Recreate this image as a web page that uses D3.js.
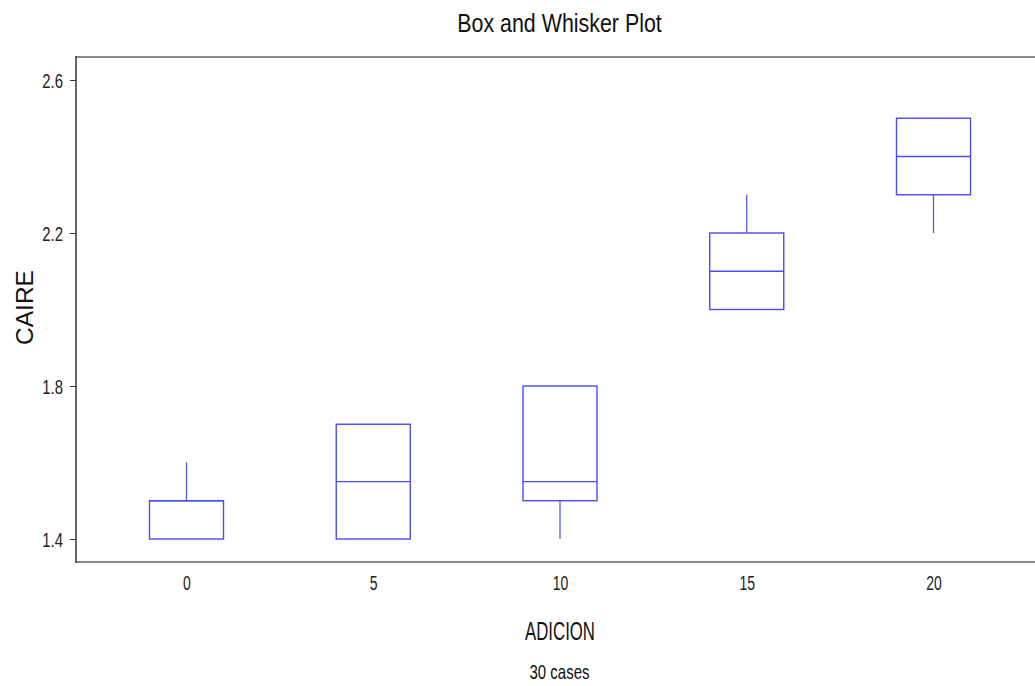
<!DOCTYPE html>
<html>
<head>
<meta charset="utf-8">
<script src="https://cdn.jsdelivr.net/npm/d3@7"></script>
<style>
  html, body { margin: 0; padding: 0; background: #fff; }
  svg { display: block; font-family: "Liberation Sans", Arial, sans-serif; }
</style>
</head>
<body>
<svg id="chart" width="1035" height="686"></svg>
<script>
// ---- data ----
const categories = [0, 5, 10, 15, 20];
const mins    = [1.4, 1.4, 1.4, 2.0, 2.2];
const q1s     = [1.4, 1.4, 1.5, 2.0, 2.3];
const medians = [1.5, 1.55, 1.55, 2.1, 2.4];
const q3s     = [1.5, 1.7, 1.8, 2.2, 2.5];
const maxs    = [1.6, 1.7, 1.8, 2.3, 2.5];
const yTicks  = [1.4, 1.8, 2.2, 2.6];
const title = "Box and Whisker Plot";
const xLabel = "ADICION";
const yLabel = "CAIRE";
const footer = "30 cases";

const svg = d3.select("#chart");
const W = 1035, H = 686;
const plotLeft = 76, plotTop = 57, plotBottom = 562;

const x = d3.scaleLinear().domain([0, 20]).range([186.5, 933.5]);
const y = d3.scaleLinear().domain([1.4, 2.6]).range([539, 80]);

const boxes = categories.map((c, i) => ({
  c, min: mins[i], q1: q1s[i], med: medians[i], q3: q3s[i], max: maxs[i]
}));

// frame
svg.append("line").attr("x1", plotLeft).attr("x2", W).attr("y1", plotTop).attr("y2", plotTop)
  .attr("stroke", "#8a8a8a").attr("stroke-width", 2);
svg.append("line").attr("x1", plotLeft).attr("x2", W).attr("y1", plotBottom).attr("y2", plotBottom)
  .attr("stroke", "#8a8a8a").attr("stroke-width", 2);

// y axis
const yAxis = d3.axisLeft(y).tickValues(yTicks).tickFormat(d3.format(".1f"))
  .tickSize(6).tickPadding(7);
const gy = svg.append("g").attr("transform", `translate(${plotLeft},0)`).call(yAxis);
gy.select(".domain").remove();
gy.selectAll(".tick line").attr("stroke", "#333");
gy.selectAll(".tick text").attr("fill", "#222").attr("font-size", 14.9)
  .attr("font-family", "Liberation Sans, Arial, sans-serif")
  .attr("dy", null).attr("y", 0)
  .attr("transform", "translate(0,7) scale(1,1.4)");
svg.append("line").attr("x1", plotLeft).attr("x2", plotLeft).attr("y1", plotTop - 1).attr("y2", plotBottom + 1)
  .attr("stroke", "#333").attr("stroke-width", 1.5);

// x axis labels (no tick marks)
const xAxis = d3.axisBottom(x).tickValues(categories).tickFormat(d3.format("d"))
  .tickSize(0).tickPadding(0);
const gx = svg.append("g").attr("transform", `translate(0,590)`).call(xAxis);
gx.select(".domain").remove();
gx.selectAll(".tick line").remove();
gx.selectAll(".tick text").attr("fill", "#222").attr("font-size", 14)
  .attr("font-family", "Liberation Sans, Arial, sans-serif")
  .attr("dy", null).attr("y", 0)
  .attr("transform", "scale(1,1.5)");

// boxes
const boxW = 74;
const blue = "#4b4bff";
const g = svg.append("g");
boxes.forEach(b => {
  const cx = x(b.c);
  g.append("line").attr("x1", cx).attr("x2", cx).attr("y1", y(b.q3)).attr("y2", y(b.max))
    .attr("stroke", blue).attr("stroke-width", 1.2);
  g.append("line").attr("x1", cx).attr("x2", cx).attr("y1", y(b.q1)).attr("y2", y(b.min))
    .attr("stroke", blue).attr("stroke-width", 1.2);
  g.append("rect").attr("x", cx - boxW / 2).attr("y", y(b.q3))
    .attr("width", boxW).attr("height", y(b.q1) - y(b.q3))
    .attr("fill", "none").attr("stroke", blue).attr("stroke-width", 1.4);
  g.append("line").attr("x1", cx - boxW / 2).attr("x2", cx + boxW / 2)
    .attr("y1", y(b.med)).attr("y2", y(b.med))
    .attr("stroke", blue).attr("stroke-width", 1.4);
});

// texts
svg.append("text").attr("text-anchor", "middle").attr("font-size", 21.4).attr("fill", "#111")
  .attr("transform", "translate(559.5,32) scale(1,1.17)").text(title);
svg.append("text").attr("text-anchor", "middle").attr("font-size", 16.8).attr("fill", "#111")
  .attr("transform", "translate(560,640) scale(1,1.5)").text(xLabel);
svg.append("text").attr("text-anchor", "middle").attr("font-size", 15).attr("fill", "#111")
  .attr("transform", "translate(559.5,679) scale(1,1.33)").text(footer);
svg.append("text").attr("text-anchor", "middle").attr("font-size", 24.5).attr("fill", "#111")
  .attr("transform", "translate(33,307.5) rotate(-90)").text(yLabel);
</script>
</body>
</html>
